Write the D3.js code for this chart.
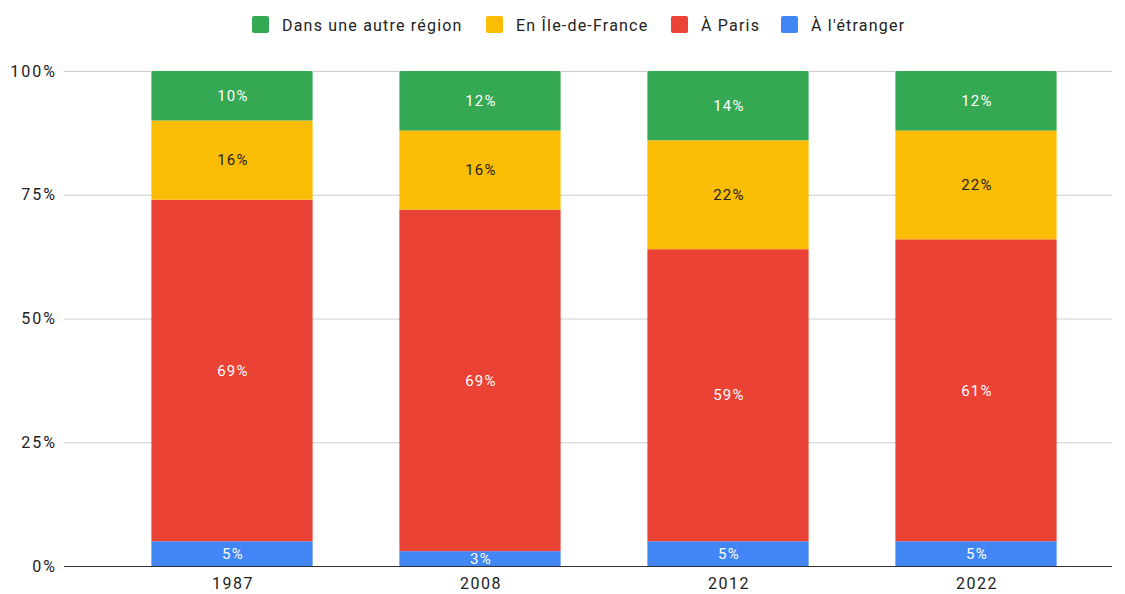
<!DOCTYPE html>
<html>
<head>
<meta charset="utf-8">
<script src="https://cdn.jsdelivr.net/npm/d3@7"></script>
<style>
  body { margin: 0; background: #fff; }
  text { font-family: Roboto, "Noto Sans", sans-serif; }
</style>
</head>
<body>
<div id="container"></div>
<script>
/* DATA */
const years = ["1987", "2008", "2012", "2022"];
const seriesNames = ["À l'étranger", "À Paris", "En Île-de-France", "Dans une autre région"];
const etranger = [5, 3, 5, 5];
const paris = [69, 69, 59, 61];
const ileDeFrance = [16, 16, 22, 22];
const autreRegion = [10, 12, 14, 12];
const yTicks = [0, 25, 50, 75, 100];

const colors = ["#4285f4", "#ea4335", "#fbbc04", "#34a853"];
const labelColors = ["#fff", "#fff", "#222", "#fff"];

const width = 1125, height = 594;

// build table for the stack
const table = years.map((y, i) => ({
  year: y,
  [seriesNames[0]]: etranger[i],
  [seriesNames[1]]: paris[i],
  [seriesNames[2]]: ileDeFrance[i],
  [seriesNames[3]]: autreRegion[i]
}));
const stacked = d3.stack().keys(seriesNames)(table);

/* SCALES */
const xScale = d3.scaleBand()
  .domain(years)
  .range([108, 1100])
  .paddingInner(0.35)
  .paddingOuter(0.175);

const yScale = d3.scaleLinear()
  .domain([0, 100])
  .range([566, 71]);

const svg = d3.select("#container")
  .append("svg")
  .attr("width", width)
  .attr("height", height);

// gridlines + y labels
svg.append("g")
  .selectAll("line")
  .data(yTicks.filter(d => d > 0))
  .join("line")
  .attr("x1", 64).attr("x2", 1112)
  .attr("y1", d => yScale(d) + 0.5).attr("y2", d => yScale(d) + 0.5)
  .attr("stroke", "#ccc");

svg.append("g")
  .selectAll("text")
  .data(yTicks)
  .join("text")
  .attr("x", 57)
  .attr("y", d => yScale(d))
  .attr("dy", "0.35em")
  .attr("text-anchor", "end")
  .attr("font-size", 16)
  .attr("letter-spacing", 2)
  .attr("fill", "#222")
  .text(d => d + "%");

// bars (top segment drawn separately with rounded corners)
svg.append("g")
  .selectAll("g")
  .data(stacked.slice(0, 3))
  .join("g")
  .attr("fill", (d, i) => colors[i])
  .selectAll("rect")
  .data(d => d)
  .join("rect")
  .attr("x", d => xScale(d.data.year))
  .attr("y", d => yScale(d[1]))
  .attr("width", xScale.bandwidth())
  .attr("height", d => yScale(d[0]) - yScale(d[1]));

svg.append("g")
  .selectAll("path")
  .data(stacked[3])
  .join("path")
  .attr("fill", colors[3])
  .attr("d", d => {
    const x0 = xScale(d.data.year), x1 = x0 + xScale.bandwidth();
    const y0 = yScale(d[1]), y1 = yScale(d[0]), r = 2;
    return `M${x0},${y1}V${y0 + r}Q${x0},${y0} ${x0 + r},${y0}H${x1 - r}Q${x1},${y0} ${x1},${y0 + r}V${y1}Z`;
  });

// value labels
stacked.forEach((layer, li) => {
  svg.append("g")
    .selectAll("text")
    .data(layer)
    .join("text")
    .attr("x", d => xScale(d.data.year) + xScale.bandwidth() / 2 + 1)
    .attr("y", d => (yScale(d[0]) + yScale(d[1])) / 2)
    .attr("dy", "0.35em")
    .attr("text-anchor", "middle")
    .attr("font-size", 15)
    .attr("letter-spacing", 1.3)
    .attr("fill", labelColors[li])
    .text(d => (d[1] - d[0]) + "%");
});

// baseline
svg.append("line")
  .attr("x1", 64).attr("x2", 1112)
  .attr("y1", yScale(0) + 0.5).attr("y2", yScale(0) + 0.5)
  .attr("stroke", "#333");

// x axis labels
svg.append("g")
  .selectAll("text")
  .data(years)
  .join("text")
  .attr("x", d => xScale(d) + xScale.bandwidth() / 2 + 1)
  .attr("y", 589)
  .attr("text-anchor", "middle")
  .attr("font-size", 16)
  .attr("letter-spacing", 1.5)
  .attr("fill", "#222")
  .text(d => d);

// legend
const legendOrder = [3, 2, 1, 0];
const legendX = [252, 486, 671, 781];
const legend = svg.append("g")
  .selectAll("g")
  .data(legendOrder)
  .join("g")
  .attr("transform", (d, i) => `translate(${legendX[i]},16)`);
legend.append("rect")
  .attr("width", 17).attr("height", 17).attr("rx", 2)
  .attr("fill", d => colors[d]);
legend.append("text")
  .attr("x", 30).attr("y", 9)
  .attr("dy", "0.35em")
  .attr("font-size", 16)
  .attr("letter-spacing", 1.2)
  .attr("fill", "#222")
  .text(d => seriesNames[d]);
</script>
</body>
</html>
